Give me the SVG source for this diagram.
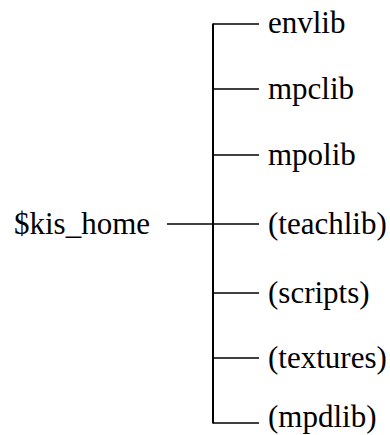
<svg xmlns="http://www.w3.org/2000/svg" width="390" height="435" viewBox="0 0 390 435">
  <style>
    .lbl { font-family: "Liberation Serif", "Times New Roman", serif; font-size: 31px; fill: #000; }
    .trunk { stroke: #000; stroke-width: 2; fill: none; }
    .branch { stroke: #000; stroke-width: 1.4; fill: none; }
  </style>
  <rect width="390" height="435" fill="#fff"/>
  <!-- directory tree: one vertical trunk, a feed from the root, and a branch per subdirectory -->
  <g id="connectors">
    <line class="trunk" x1="213" y1="23.5" x2="213" y2="423.5"/>
    <line class="branch" x1="167" y1="224" x2="213" y2="224"/>
    <line class="branch" x1="213" y1="24" x2="259" y2="24"/>
    <line class="branch" x1="213" y1="89" x2="259" y2="89"/>
    <line class="branch" x1="213" y1="155" x2="259" y2="155"/>
    <line class="branch" x1="213" y1="224" x2="259" y2="224"/>
    <line class="branch" x1="213" y1="293" x2="259" y2="293"/>
    <line class="branch" x1="213" y1="358" x2="259" y2="358"/>
    <line class="branch" x1="213" y1="423" x2="259" y2="423"/>
  </g>
  <g id="kis_home"><text class="lbl" x="14" y="234">$kis_home</text></g>
  <g id="envlib"><text class="lbl" x="268" y="33">envlib</text></g>
  <g id="mpclib"><text class="lbl" x="268" y="99">mpclib</text></g>
  <g id="mpolib"><text class="lbl" x="268" y="165">mpolib</text></g>
  <g id="teachlib"><text class="lbl" x="268" y="234">(teachlib)</text></g>
  <g id="scripts"><text class="lbl" x="268" y="303">(scripts)</text></g>
  <g id="textures"><text class="lbl" x="268" y="368">(textures)</text></g>
  <g id="mpdlib"><text class="lbl" x="268" y="427">(mpdlib)</text></g>
</svg>
